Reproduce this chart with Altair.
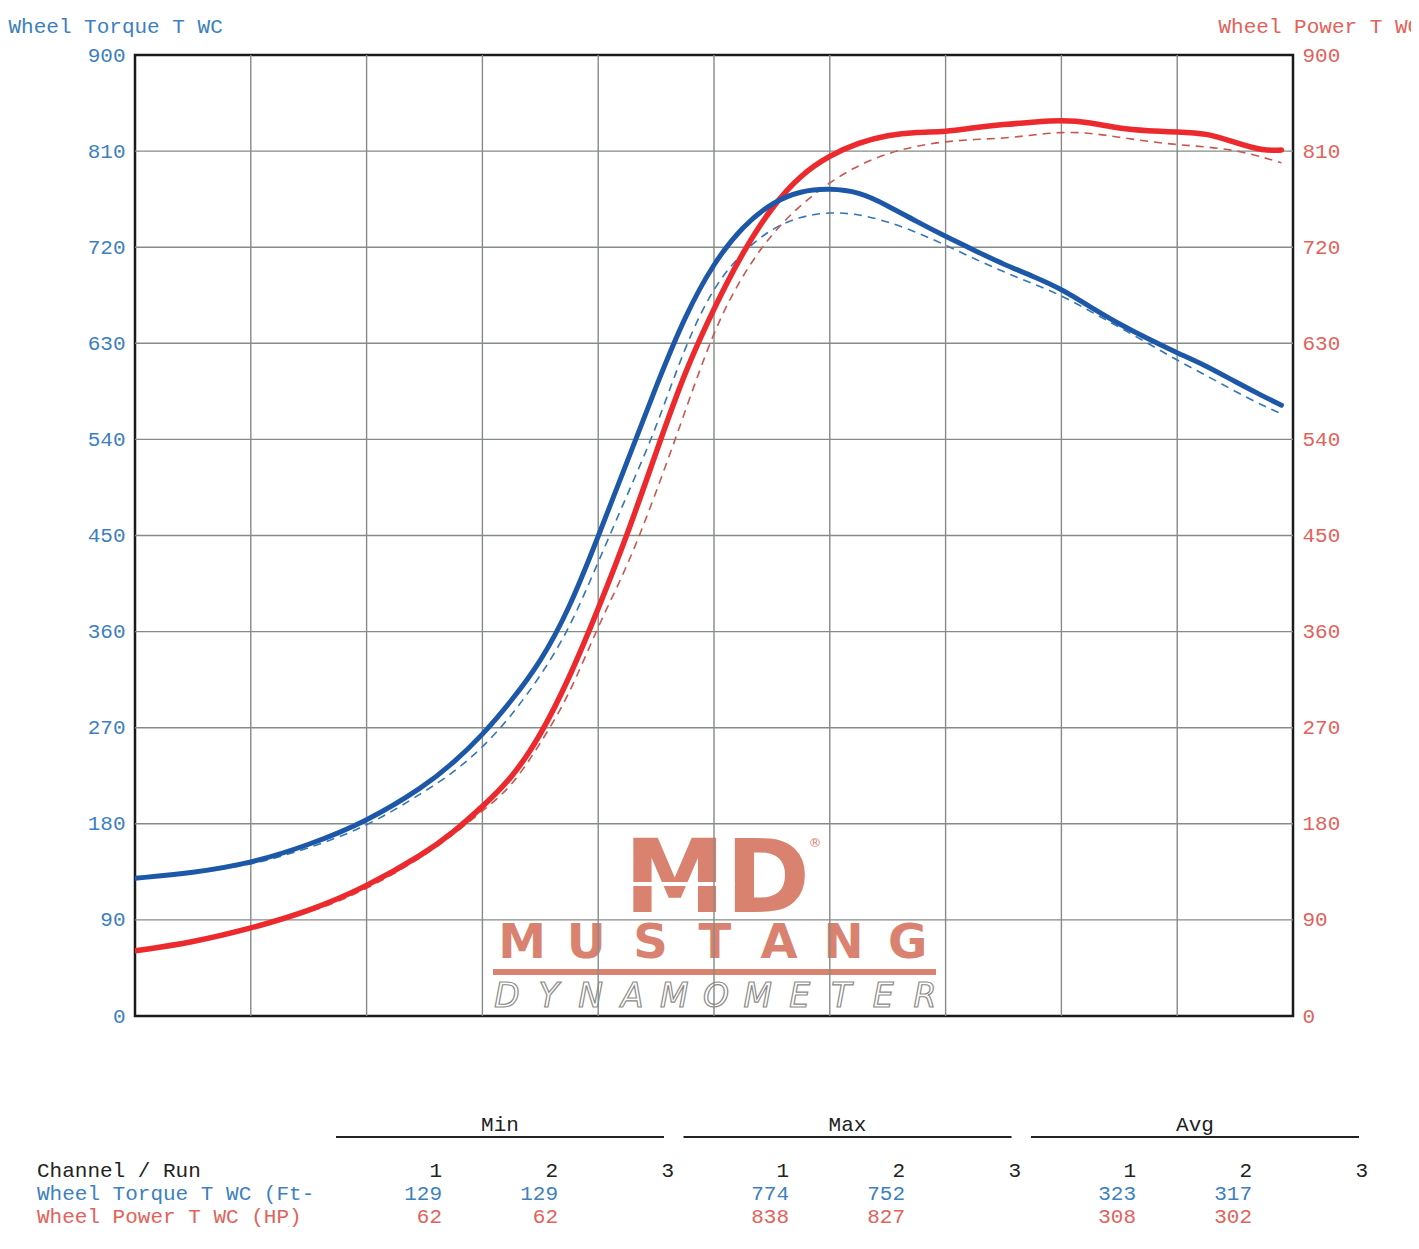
import altair as alt
import pandas as pd

# ---------------- data (read from the dyno sheet) ----------------
rpm = [2500, 2750, 3000, 3250, 3500, 3750, 3875, 4000, 4125, 4250, 4375, 4500,
       4625, 4750, 4875, 5000, 5125, 5250, 5375, 5500, 5625, 5750, 5875, 6000,
       6125, 6250, 6375, 6500, 6625, 6750, 6875, 7000, 7125, 7250, 7375, 7450]

torque_run1 = [129, 134, 143, 160, 182, 215, 237, 263, 295, 331, 381, 449,
               519, 590, 656, 706, 740, 762, 773, 775, 772, 759, 744, 730,
               717, 704, 693, 681, 664, 648, 634, 621, 609, 594, 580, 572]
torque_run2 = [129, 134, 141, 157, 177, 210, 228, 251, 281, 318, 362, 425,
               488, 550, 628, 684, 716, 738, 749, 753, 751, 744, 734, 722,
               709, 697, 686, 675, 660, 645, 630, 614, 600, 585, 571, 564]
power_run1 = [61, 69, 82, 98, 121, 152, 172, 196, 222, 262, 316, 381,
              450, 528, 604, 663, 716, 758, 788, 806, 818, 825, 828, 828,
              832, 835, 837, 839, 837, 831, 829, 828, 827, 818, 810, 811]
power_run2 = [61, 69, 82, 96, 118, 150, 170, 192, 214, 255, 300, 366,
              420, 490, 566, 643, 695, 733, 760, 781, 797, 808, 815, 819,
              821, 822, 825, 828, 827, 823, 819, 816, 814, 811, 804, 799]

x_ticks = [2500, 3000, 3500, 4000, 4500, 5000, 5500, 6000, 6500, 7000, 7500]
y_ticks = [0, 90, 180, 270, 360, 450, 540, 630, 720, 810, 900]

stat_groups = ["Min", "Max", "Avg"]
run_labels = ["1", "2", "3"]
channel_names = ["Wheel Torque T WC (Ft-", "Wheel Power T WC (HP)"]
torque_stats = [["129", "129", ""], ["774", "752", ""], ["323", "317", ""]]
power_stats = [["62", "62", ""], ["838", "827", ""], ["308", "302", ""]]

# ---------------- layout / style ----------------
OX, OY = 135, 55            # page position of plot origin
W, H = 1158, 961
MONO = "Liberation Mono"
BLUE_TXT = "#3d7fbf"
XLAB = "#6ea9da"
RED_TXT = "#e2625a"
LOGO = "#d9826f"
GRID = "#858b87"

XS = alt.Scale(domain=[2500, 7500], nice=False, zero=False)
YS = alt.Scale(domain=[0, 900], nice=False, zero=True)


def rel_x(px):
    return px - OX


def rel_y(py):
    return py - OY


def text_layer(df, **kw):
    return alt.Chart(df).mark_text(**kw).encode(
        x=alt.X("px:Q", scale=None, axis=None),
        y=alt.Y("py:Q", scale=None, axis=None),
        text="t:N",
    )


def rule_layer(df, **kw):
    return alt.Chart(df).mark_rule(**kw).encode(
        x=alt.X("x0:Q", scale=None, axis=None),
        x2="x1:Q",
        y=alt.Y("y0:Q", scale=None, axis=None),
    )


# ---------------- logo ----------------
md = text_layer(pd.DataFrame({"px": [rel_x(717)], "py": [rel_y(912)], "t": ["MD"]}),
                font="DejaVu Sans", fontSize=102, fontWeight="bold", color=LOGO,
                align="center", baseline="alphabetic")
md_stripe = rule_layer(pd.DataFrame({"x0": [rel_x(627)], "x1": [rel_x(735)], "y0": [rel_y(884)]}),
                       color="white", strokeWidth=4)
reg = text_layer(pd.DataFrame({"px": [rel_x(815)], "py": [rel_y(843)], "t": ["®"]}),
                 font="DejaVu Sans", fontSize=13, color=LOGO, align="center", baseline="middle")
mustang_letters = list("MUSTANG")
mustang = text_layer(pd.DataFrame({
    "px": [rel_x(522) + i * 64.3 for i in range(len(mustang_letters))],
    "py": [rel_y(958)] * len(mustang_letters),
    "t": mustang_letters}),
    font="DejaVu Sans", fontSize=48, fontWeight="bold", color=LOGO,
    align="center", baseline="alphabetic")
bar = rule_layer(pd.DataFrame({"x0": [rel_x(493)], "x1": [rel_x(936)], "y0": [rel_y(972)]}),
                 color=LOGO, strokeWidth=6)
dyn_letters = list("DYNAMOMETER")
dyn = text_layer(pd.DataFrame({
    "px": [rel_x(507) + i * 41.8 for i in range(len(dyn_letters))],
    "py": [rel_y(1007)] * len(dyn_letters),
    "t": dyn_letters}),
    font="DejaVu Sans", fontSize=33, fontStyle="italic", fill="white",
    stroke="#8d8a88", strokeWidth=1.2, align="center", baseline="alphabetic")

# ---------------- grid ----------------
vgrid = alt.Chart(pd.DataFrame({"rpm": x_ticks[1:-1]})).mark_rule(
    color=GRID, strokeWidth=1.4).encode(x=alt.X("rpm:Q", scale=XS, axis=None))
hgrid = alt.Chart(pd.DataFrame({"v": y_ticks[1:-1]})).mark_rule(
    color=GRID, strokeWidth=1.4).encode(y=alt.Y("v:Q", scale=YS, axis=None))

# ---------------- curves ----------------
def curve(values, color, width, dash=None, yaxis=None, xaxis=None):
    df = pd.DataFrame({"rpm": rpm, "v": values})
    kw = dict(color=color, strokeWidth=width, interpolate="basis", clip=True,
              strokeCap="round", strokeJoin="round")
    if dash:
        kw["strokeDash"] = dash
        kw["strokeCap"] = "butt"
    return alt.Chart(df).mark_line(**kw).encode(
        x=alt.X("rpm:Q", scale=XS, axis=xaxis),
        y=alt.Y("v:Q", scale=YS, axis=yaxis),
    )


x_axis = alt.Axis(values=x_ticks, format="d", grid=False, ticks=False, domain=False,
                  labelFont=MONO, labelFontSize=21, labelColor=XLAB, labelPadding=11,
                  labelFlush=False, title="Engine Speed", titleFont=MONO, titleFontSize=21,
                  titleFontWeight="normal", titleColor=XLAB, titlePadding=3)
left_axis = alt.Axis(values=y_ticks, format="d", orient="left", grid=False, ticks=False,
                     domain=False, labelFont=MONO, labelFontSize=21, labelColor=BLUE_TXT,
                     labelPadding=10, labelFlush=False, title="Wheel Torque T WC",
                     titleFont=MONO, titleFontSize=21, titleFontWeight="normal",
                     titleColor=BLUE_TXT, titleAngle=0, titleAlign="left",
                     titleBaseline="alphabetic", titleX=-127, titleY=-23)
right_axis = alt.Axis(values=y_ticks, format="d", orient="right", grid=False, ticks=False,
                      domain=False, labelFont=MONO, labelFontSize=21, labelColor=RED_TXT,
                      labelPadding=9, labelFlush=False, title="Wheel Power T WC",
                      titleFont=MONO, titleFontSize=21, titleFontWeight="normal",
                      titleColor=RED_TXT, titleAngle=0, titleAlign="left",
                      titleBaseline="alphabetic", titleX=-75, titleY=-23)

t2 = curve(torque_run2, "#3576b5", 1.6, dash=[8, 6])
p2 = curve(power_run2, "#c8574f", 1.6, dash=[8, 6])
p1 = curve(power_run1, "#ec2a2e", 5.5, yaxis=right_axis)
t1 = curve(torque_run1, "#1d58a8", 5, yaxis=left_axis, xaxis=x_axis)

# ---------------- stats table ----------------
hdr_rows, ul_rows = [], []
for g, name in enumerate(stat_groups):
    cx = 500 + g * 347.5
    hdr_rows.append({"px": rel_x(cx), "py": rel_y(1125), "t": name})
    ul_rows.append({"x0": rel_x(cx - 164), "x1": rel_x(cx + 164), "y0": rel_y(1137)})
headers = text_layer(pd.DataFrame(hdr_rows), font=MONO, fontSize=21, color="#222222",
                     align="center", baseline="middle")
underlines = rule_layer(pd.DataFrame(ul_rows), color="#222222", strokeWidth=2)

run_rows, tq_rows, pw_rows = [], [], []
for g in range(len(stat_groups)):
    for r, lab in enumerate(run_labels):
        rx = rel_x(442 + g * 347 + r * 116)
        run_rows.append({"px": rx, "py": rel_y(1171), "t": lab})
        tq_rows.append({"px": rx, "py": rel_y(1194), "t": torque_stats[g][r]})
        pw_rows.append({"px": rx, "py": rel_y(1217), "t": power_stats[g][r]})

runs_txt = text_layer(pd.DataFrame(run_rows), font=MONO, fontSize=21, color="#222222",
                      align="right", baseline="middle")
chan_hdr = text_layer(pd.DataFrame({"px": [rel_x(37)], "py": [rel_y(1171)],
                                    "t": ["Channel / Run"]}),
                      font=MONO, fontSize=21, color="#222222", align="left", baseline="middle")
tq_txt = text_layer(pd.DataFrame(tq_rows), font=MONO, fontSize=21, color=BLUE_TXT,
                    align="right", baseline="middle")
pw_txt = text_layer(pd.DataFrame(pw_rows), font=MONO, fontSize=21, color=RED_TXT,
                    align="right", baseline="middle")
chan_name_tq = text_layer(pd.DataFrame({"px": [rel_x(37)], "py": [rel_y(1194)],
                                        "t": [channel_names[0]]}),
                          font=MONO, fontSize=21, color=BLUE_TXT, align="left", baseline="middle")
chan_name_pw = text_layer(pd.DataFrame({"px": [rel_x(37)], "py": [rel_y(1217)],
                                        "t": [channel_names[1]]}),
                          font=MONO, fontSize=21, color=RED_TXT, align="left", baseline="middle")

chart = alt.layer(
    md, md_stripe, reg, mustang, bar, dyn,
    vgrid, hgrid,
    t2, p2, p1, t1,
    headers, underlines, runs_txt, chan_hdr, tq_txt, pw_txt, chan_name_tq, chan_name_pw,
).resolve_scale(y="independent").properties(
    width=W, height=H,
    autosize=alt.AutoSizeParams(type="none"),
    padding={"left": 127, "top": 47, "right": 118, "bottom": 225},
    background="white",
).configure_view(stroke="#1a1a1a", strokeWidth=2.5)

chart.save("out.html", embed_options={"renderer": "svg", "actions": False})
